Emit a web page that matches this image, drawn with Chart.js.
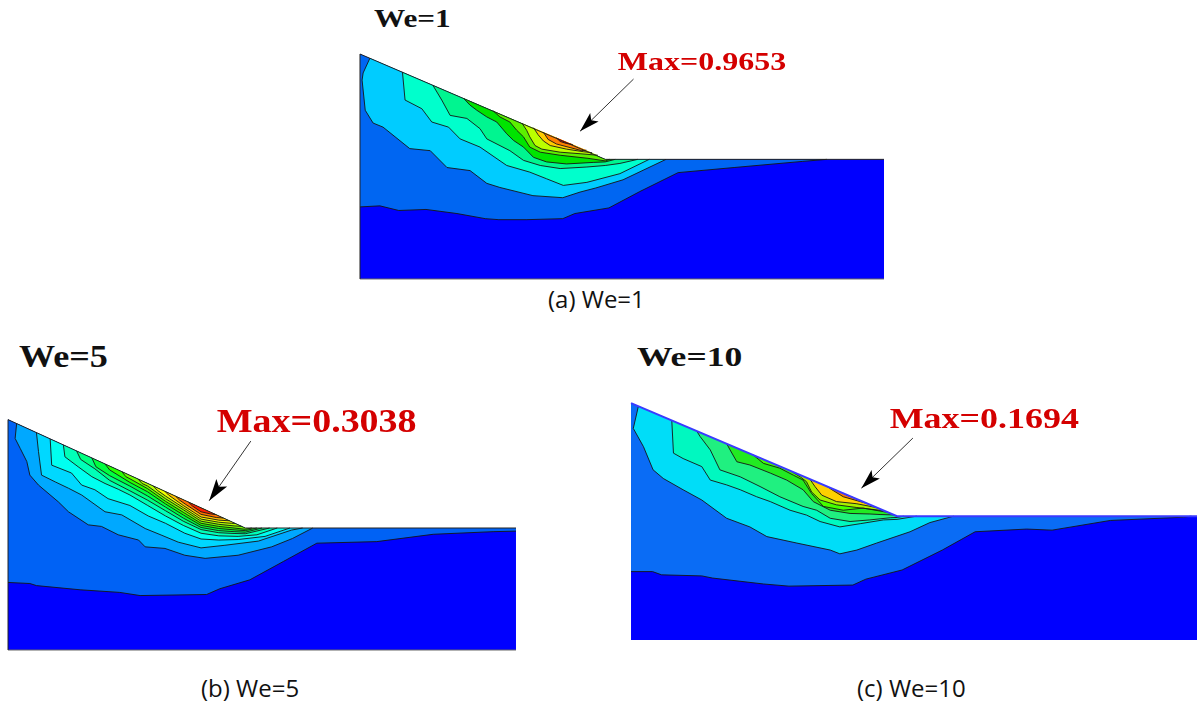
<!DOCTYPE html>
<html>
<head>
<meta charset="utf-8">
<script src="https://cdn.jsdelivr.net/npm/chart.js@4.4.1/dist/chart.umd.min.js"></script>
<style>
  body { margin: 0; background: #fff; width: 1197px; height: 702px; position: relative; overflow: hidden; }
  .plot { position: absolute; }
  .ttl { position: absolute; font: bold 26px "Liberation Serif", serif; line-height: 1; color: #111; transform-origin: left top; white-space: nowrap; }
  .cap { position: absolute; font: 24px "Open Sans", sans-serif; line-height: 1; color: #111; white-space: nowrap; }
</style>
</head>
<body>
<div class="ttl" style="left:374px;top:6px;transform:scaleX(1.2)">We=1</div>
<div class="ttl" style="left:19px;top:340px;font-size:32px;transform:scaleX(1.13)">We=5</div>
<div class="ttl" style="left:637px;top:343px;font-size:28px;transform:scaleX(1.27)">We=10</div>

<div class="plot" style="left:359px;top:30px;width:526px;height:250px"><canvas id="chartA"></canvas></div>
<div class="plot" style="left:7px;top:395px;width:510px;height:256px"><canvas id="chartB"></canvas></div>
<div class="plot" style="left:630px;top:395px;width:567px;height:246px"><canvas id="chartC"></canvas></div>

<div class="cap" style="left:548px;top:287px">(a) We=1</div>
<div class="cap" style="left:201px;top:676px">(b) We=5</div>
<div class="cap" style="left:857px;top:676px">(c) We=10</div>

<script>
// model geometry: slope crest at x=0, y=44; toe where the slope meets the level surface
const TOP_Y = 44;
const X_MAX = 100;

// ---- (a) We=1 ----
const A_SURF = 23.4, A_TOE = 46.8;
const A_MAX = 'Max=0.9653';
const A_MAX_AT = [49.2, 40.9];
const A_ARROW = [[52.2, 39.1], [42.0, 28.9]];
const A_CONTOURS = [
  [[0,14.1],[3.8,14.3],[7.4,13.4],[12.6,13.6],[18.5,12.8],[23.9,11.8],[26.5,11.6],[31.7,11.6],[38.7,11.8],[41.0,12.8],[47.5,13.9],[53.4,17.1],[60.7,20.8],[71.4,21.8],[84.5,23.0],[89.1,23.4]],
  [[1.9,43.2],[0.6,40.3],[0.4,38.9],[1.0,33.0],[2.5,30.5],[4.4,29.7],[9.5,25.5],[13.4,25.1],[16.6,21.8],[21.0,21.2],[24.2,18.7],[26.7,17.9],[33.0,16.3],[38.7,15.9],[42.0,17.0],[45.0,17.8],[50.2,19.4],[58.4,23.4]],
  [[8.1,40.5],[8.6,35.0],[11.8,33.3],[13.7,30.7],[16.9,29.7],[19.1,27.4],[22.9,25.8],[28.0,22.2],[32.4,20.9],[35.6,19.6],[38.8,18.3],[43.3,18.9],[49.6,20.6],[55.2,23.4]],
  [[13.9,37.9],[15.6,35.0],[17.2,32.0],[20.4,31.4],[22.9,29.4],[24.2,27.4],[28.6,25.1],[31.2,23.2],[34.4,22.2],[38.2,21.6],[43.3,21.9],[46.8,22.2],[49.6,22.6],[53.0,23.4]],
  [[19.7,35.4],[21.0,34.0],[22.3,33.0],[24.2,31.7],[26.1,30.7],[28.0,28.4],[29.3,27.1],[31.2,25.8],[33.1,23.8],[35.6,22.9],[39.4,22.5],[44.5,22.8],[46.8,22.9],[48.7,23.4]],
  [[25.4,32.9],[26.7,31.7],[28.6,30.7],[29.9,29.1],[31.2,27.8],[32.4,25.8],[34.4,24.8],[38.2,24.2],[43.5,23.6],[46.8,23.1],[47.6,23.4]],
  [[30.9,30.5],[31.8,29.1],[32.4,27.8],[33.4,26.1],[34.7,25.4],[38.2,24.8],[42.0,24.5],[45.4,24.2]],
  [[33.1,29.6],[34.0,28.2],[35.0,27.0],[36.3,26.1],[39.4,25.4],[42.6,24.9],[44.3,24.7]],
  [[35.0,28.7],[35.9,27.3],[37.5,26.4],[40.1,25.7],[42.3,25.1],[43.2,25.2]],
  [[37.5,27.6],[38.2,26.9],[39.4,26.5],[40.6,26.3]]
];

// ---- (b) We=5 ----
const B_SURF = 23.3, B_TOE = 46.7;
const B_MAX = 'Max=0.3038';
const B_MAX_AT = [41.1, 41.7];
const B_ARROW = [[47.8, 39.9], [39.6, 28.5]];
const B_CONTOURS = [
  [[0,12.9],[4.3,12.7],[5.6,12.3],[14.2,11.5],[22.0,11.0],[26.0,10.4],[39.1,10.6],[41.7,11.7],[47.6,13.4],[54.2,16.9],[60.8,20.4],[72.6,20.7],[83.7,22.1],[95.5,22.6],[100,22.7]],
  [[1.7,43.25],[1.4,40.4],[2.4,38.5],[3.7,36.0],[4.3,33.4],[6.0,31.5],[9.9,28.3],[11.9,26.4],[15.8,23.9],[18.4,23.6],[21.7,22.0],[25.7,21.0],[27.0,19.7],[30.9,19.4],[34.8,18.1],[38.8,17.5],[45.3,18.1],[51.9,19.7],[56.0,21.3],[60.0,23.3]],
  [[5.6,41.5],[6.0,37.9],[6.6,33.4],[9.3,32.1],[11.9,30.9],[14.5,29.6],[19.1,26.4],[22.4,25.8],[27.0,23.2],[30.3,21.9],[33.5,20.6],[38.0,19.5],[42.7,20.0],[49.3,20.8],[55.8,22.9],[58.0,23.3]],
  [[8.3,40.3],[8.6,35.3],[12.5,33.8],[14.5,31.5],[17.1,30.6],[19.7,28.9],[24.0,27.6],[27.6,25.6],[31.0,24.2],[34.8,22.3],[38.0,21.2],[41.5,21.0],[45.3,21.1],[50.6,21.7],[55.5,23.3]],
  [[10.9,39.17],[11.2,36.9],[13.8,35.0],[16.5,33.1],[19.1,31.8],[21.7,30.7],[24.0,29.6],[27.5,27.6],[31.0,25.6],[34.5,23.8],[38.0,22.3],[41.5,21.8],[45.3,21.7],[49.0,22.0],[53.0,23.3]],
  [[13.5,38.02],[14.3,36.4],[17.1,34.6],[20.0,32.4],[24.0,30.4],[27.5,28.6],[31.0,26.6],[34.5,24.6],[38.0,23.0],[41.5,22.4],[44.5,22.25],[46.7,22.2],[51.5,23.3]],
  [[16.5,36.69],[17.3,35.0],[20.0,33.3],[24.0,31.3],[27.5,29.4],[31.0,27.3],[34.5,25.2],[38.0,23.4],[41.5,22.8],[44.5,22.6],[46.7,22.5],[50.0,23.3]],
  [[19.1,35.53],[20.0,34.4],[24.0,32.0],[27.5,30.2],[31.0,27.9],[34.5,25.8],[38.0,23.8],[41.5,23.2],[44.5,22.95],[46.7,22.8],[49.0,23.3]],
  [[22.4,34.07],[23.2,33.1],[24.0,32.7],[27.5,30.8],[31.0,28.4],[34.5,26.3],[38.0,24.2],[41.5,23.6],[44.5,23.3],[46.7,23.05],[48.0,23.3]],
  [[25.6,32.65],[26.4,31.8],[27.5,31.3],[31.0,28.9],[34.5,26.8],[38.0,24.6],[41.5,24.0],[44.5,23.7],[46.0,23.61]],
  [[28.6,31.32],[29.4,30.5],[31.0,29.4],[34.5,27.2],[38.0,25.0],[41.5,24.4],[44.0,24.2],[44.7,24.18]],
  [[30.9,30.3],[31.6,29.6],[34.5,27.6],[38.0,25.4],[41.5,24.8],[43.6,24.67]],
  [[33.0,29.37],[33.8,28.6],[35.0,27.8],[38.0,25.9],[41.0,25.3],[42.4,25.2]],
  [[35.5,28.26],[36.3,27.5],[38.0,26.4],[39.8,26.0],[40.9,25.87]]
];

// ---- (c) We=10 ----
const C_SURF = 23.0, C_TOE = 47.0;
const C_MAX = 'Max=0.1694';
const C_MAX_AT = [45.7, 39.3];
const C_ARROW = [[49.8, 37.5], [40.7, 28.2]];
const C_CONTOURS = [
  [[0,12.7],[3.8,12.7],[5.4,12.1],[12.5,11.9],[14.4,11.5],[23.4,10.4],[27.9,10.0],[39.2,10.2],[41.5,11.3],[47.9,13.0],[55.0,16.7],[60.8,20.1],[69.9,20.6],[74.4,20.4],[84.7,22.2],[97.6,22.8],[99.0,23.0]],
  [[1.3,43.4],[0.4,39.3],[2.2,35.9],[3.9,31.6],[5.7,30.0],[9.2,27.9],[12.5,26.0],[16.9,22.6],[21.0,21.0],[24.0,19.2],[29.3,18.0],[35.2,16.7],[36.9,16.0],[39.9,16.7],[43.4,18.0],[49.3,20.1],[52.8,21.8],[57.0,23.0]],
  [[7.2,40.8],[7.5,34.7],[9.2,33.7],[12.5,32.2],[14.0,29.7],[16.9,28.8],[19.3,27.9],[22.2,26.6],[24.6,25.7],[28.1,24.1],[31.0,23.2],[33.4,22.0],[36.9,21.0],[40.5,21.6],[44.6,22.3],[47.0,22.4],[50.5,23.0]],
  [[11.6,38.8],[12.2,37.8],[14.0,35.3],[15.7,31.6],[19.3,30.3],[22.8,28.5],[26.3,26.6],[30.4,24.8],[32.8,24.1],[35.2,22.6],[38.7,22.0],[42.2,22.3],[45.8,22.7],[47.0,22.75],[48.2,23.0]],
  [[16.9,36.45],[17.5,35.3],[18.7,33.1],[21.0,32.5],[24.6,31.0],[27.5,29.7],[30.4,27.9],[32.2,25.7],[35.2,24.1],[38.7,23.5],[42.2,23.4],[44.0,23.3],[46.5,23.22]],
  [[21.6,34.35],[23.4,32.8],[26.3,31.9],[28.7,30.6],[30.4,29.7],[31.9,27.2],[34.0,24.8],[37.5,24.1],[41.0,24.5],[45.5,23.67]],
  [[28.1,31.44],[29.9,30.3],[31.0,29.4],[31.9,27.5],[33.4,26.0],[36.3,25.1],[39.9,24.6],[44.8,23.98]],
  [[31.6,29.88],[32.5,28.5],[33.7,26.9],[36.3,25.7],[39.9,25.3],[43.5,24.56]],
  [[34.6,28.54],[35.5,27.9],[37.5,26.6],[40.5,25.7],[41.8,25.32]],
  [[37.5,27.25],[38.1,26.9],[39.3,26.44]]
];

// band colours, outermost (lowest) first
const PAL_A = ['#0000ff','#0066f2','#00ccff','#00ffcc','#00f590','#00e400','#5cf000','#bbff00','#ffcc00','#ff8000','#ff1000'];
const PAL_B = ['#0000ff','#0062f5','#00a8ff','#00d8ff','#00fff0','#00ffb8','#00ff80','#00ff40','#28ff00','#70ff00','#b0ff00','#f0ff00','#ffc000','#ff7000','#ff2000'];
const PAL_C = ['#0000ff','#0a6cf5','#00ddf8','#00f8c0','#20f080','#22ea22','#44ff00','#a8f000','#ffd000','#ff7a00','#ff1000'];

const pts = list => list.map(p => ({ x: p[0], y: p[1] }));

// close a contour back along the free surface so the band above it can be filled
function regionOf(curve, surf, toe) {
  const out = curve.slice();
  const first = out[0], last = out[out.length - 1];
  if (last[0] >= X_MAX && last[1] < surf) out.push([X_MAX, surf]);
  if (last[0] > toe) out.push([toe, surf]);
  if (first[0] <= 0) out.push([0, TOP_Y]);
  return out;
}

const maxNote = {
  id: 'maxNote',
  afterDatasetsDraw(chart, args, o) {
    const { ctx, scales: { x, y } } = chart;
    const [t, h] = o.arrow;
    const x0 = x.getPixelForValue(t[0]), y0 = y.getPixelForValue(t[1]);
    const x1 = x.getPixelForValue(h[0]), y1 = y.getPixelForValue(h[1]);
    const ang = Math.atan2(y1 - y0, x1 - x0);
    const L = o.head;
    ctx.save();
    ctx.translate(x1, y1);
    ctx.rotate(ang);
    ctx.beginPath();
    ctx.moveTo(0, 0);
    ctx.lineTo(-L, -L * 0.3);
    ctx.lineTo(-L * 0.78, 0);
    ctx.lineTo(-L, L * 0.3);
    ctx.closePath();
    ctx.fillStyle = '#000';
    ctx.fill();
    ctx.restore();

    ctx.save();
    ctx.translate(x.getPixelForValue(o.at[0]), y.getPixelForValue(o.at[1]));
    ctx.scale(o.stretch, 1);
    ctx.font = 'bold ' + o.size + 'px "Liberation Serif"';
    ctx.fillStyle = '#d40000';
    ctx.textBaseline = 'alphabetic';
    ctx.fillText(o.text, 0, 0);
    ctx.restore();
  }
};

function drawPanel(id, surf, toe, contours, pal, note, view, edge) {
  const line = (data, extra) => Object.assign({
    data: pts(data), showLine: true, fill: false, pointRadius: 0,
    borderColor: '#151515', borderWidth: 1, tension: 0
  }, extra);
  const ds = [];
  ds.push(line([[0, 0], [X_MAX, 0], [X_MAX, surf], [toe, surf], [0, TOP_Y]],
    { fill: 'shape', backgroundColor: pal[0], borderWidth: 0, borderColor: 'transparent', order: 1000 }));
  contours.forEach((c, k) => ds.push(line(regionOf(c, surf, toe),
    { fill: 'shape', backgroundColor: pal[k + 1], borderWidth: 0, borderColor: 'transparent', order: 999 - k })));
  contours.forEach(c => ds.push(line(c, { borderWidth: 0.9, order: 100 })));
  if (edge === 'blue') {
    ds.push(line([[0, TOP_Y], [toe, surf], [X_MAX, surf]], { borderColor: '#3a3aff', borderWidth: 2, order: 50 }));
  } else {
    ds.push(line([[0, 0], [0, TOP_Y], [toe, surf], [X_MAX, surf]], { borderColor: '#222', order: 50 }));
    ds.push(line([[0, 0], [X_MAX, 0]], { borderColor: '#666', order: 50 }));
  }
  ds.push(line(note.arrow, { borderColor: '#333', order: 10 }));

  new Chart(document.getElementById(id), {
    type: 'scatter',
    data: { datasets: ds },
    options: {
      responsive: true,
      maintainAspectRatio: false,
      animation: false,
      events: [],
      layout: { padding: 0 },
      scales: {
        x: { type: 'linear', display: false, min: view[0], max: view[1] },
        y: { type: 'linear', display: false, min: view[2], max: view[3] }
      },
      plugins: { legend: { display: false }, tooltip: { enabled: false }, maxNote: note }
    },
    plugins: [maxNote]
  });
}

drawPanel('chartA', A_SURF, A_TOE, A_CONTOURS, PAL_A,
  { text: A_MAX, at: A_MAX_AT, arrow: A_ARROW, size: 26, stretch: 1.23, head: 20 },
  [-0.19, 100.19, -0.2, 48.7], 'dark');
drawPanel('chartB', B_SURF, B_TOE, B_CONTOURS, PAL_B,
  { text: B_MAX, at: B_MAX_AT, arrow: B_ARROW, size: 33, stretch: 1.15, head: 22 },
  [-0.2, 100.2, -0.19, 48.7], 'dark');
drawPanel('chartC', C_SURF, C_TOE, C_CONTOURS, PAL_C,
  { text: C_MAX, at: C_MAX_AT, arrow: C_ARROW, size: 29, stretch: 1.24, head: 20 },
  [-0.18, 100.0, -0.19, 45.5], 'blue');
</script>
</body>
</html>
